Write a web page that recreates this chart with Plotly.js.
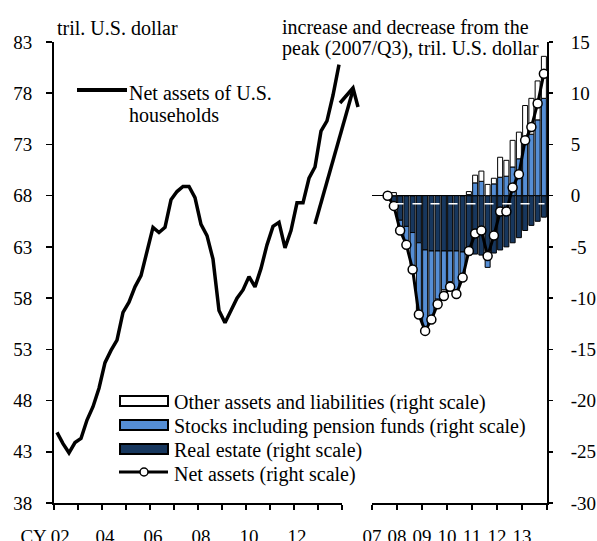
<!DOCTYPE html>
<html><head><meta charset="utf-8">
<script src="https://cdn.plot.ly/plotly-3.0.1.min.js"></script>
<style>html,body{margin:0;padding:0;background:#fff;}#chart{width:597px;height:541px;}</style>
</head><body><div id="chart"></div>
<script>
// ---- data ----
const leftQuarters = ["2002Q1","2002Q2","2002Q3","2002Q4","2003Q1","2003Q2","2003Q3","2003Q4",
 "2004Q1","2004Q2","2004Q3","2004Q4","2005Q1","2005Q2","2005Q3","2005Q4",
 "2006Q1","2006Q2","2006Q3","2006Q4","2007Q1","2007Q2","2007Q3","2007Q4",
 "2008Q1","2008Q2","2008Q3","2008Q4","2009Q1","2009Q2","2009Q3","2009Q4",
 "2010Q1","2010Q2","2010Q3","2010Q4","2011Q1","2011Q2","2011Q3","2011Q4",
 "2012Q1","2012Q2","2012Q3","2012Q4","2013Q1","2013Q2","2013Q3","2013Q4"];
const netAssetsLevel = [44.9,43.8,42.9,43.9, 44.3,46.1,47.4,49.2,
 51.7,52.9,53.9,56.6, 57.6,59.1,60.2,62.7,
 64.9,64.4,64.9,67.6, 68.4,68.9,68.9,67.8,
 65.2,64.1,61.8,56.8, 55.6,56.8,58.0,58.8,
 60.1,59.1,60.9,63.2, 65.0,65.4,62.9,64.6,
 67.3,67.3,69.7,70.8, 74.3,75.3,77.8,80.8];

const rightQuarters = ["2007Q3","2007Q4",
 "2008Q1","2008Q2","2008Q3","2008Q4","2009Q1","2009Q2","2009Q3","2009Q4",
 "2010Q1","2010Q2","2010Q3","2010Q4","2011Q1","2011Q2","2011Q3","2011Q4",
 "2012Q1","2012Q2","2012Q3","2012Q4","2013Q1","2013Q2","2013Q3","2013Q4"];
const realEstate = [-0.1,-1.3, -2.4,-3.0,-3.6,-4.6,-5.3,-5.4,-5.4,-5.4,
 -5.4,-5.4,-5.5,-5.8,-5.7,-5.8,-5.8,-5.6, -5.3,-5.0,-4.6,-4.1,-3.4,-2.9,-2.5,-2.1];
const stocks = [0.0,0.0, -1.0,-1.8,-3.6,-6.7,-7.7,-6.5,-4.7,-3.8,
 -3.0,-4.0,-2.5,0.1,1.25,1.4,-1.2,1.15, 1.8,1.9,2.8,3.6,5.7,6.0,7.4,9.5];
const otherAssets = [0.1,0.3, 0.0,0.0,0.0,-0.3,-0.2,-0.2,-0.5,-0.6,
 -0.5,-0.2,0.0,0.3,0.75,1.0,1.1,0.55, 1.95,1.55,2.6,2.6,3.1,3.5,3.8,4.1];
const netAssetsChange = [0.0,-1.0, -3.4,-4.8,-7.2,-11.6,-13.2,-12.1,-10.6,-9.8,
 -8.9,-9.6,-8.0,-5.4,-3.7,-3.4,-5.9,-3.9, -1.55,-1.55,0.8,2.1,5.4,6.7,9.0,11.9];

const leftTickYears = [2002,2003,2004,2005,2006,2007,2008,2009,2010,2011,2012,2013,2014];
const leftTickText = ["CY 02\u00a0\u00a0\u00a0\u00a0\u00a0","","04","","06","","08","","10","","12","",""];
const rightTickYears = [2007,2008,2009,2010,2011,2012,2013,2014];
const rightTickText = ["07","08","09","10","11","12","13",""];
const rightYTickVals = [-30,-25,-20,-15,-10,-5,0,5,10,15];
const rightYTickText = ["-30","-25","-20","-15","-10","-5","0","5","10","15"];

const legendLabels = ["Other assets and liabilities (right scale)",
 "Stocks including pension funds (right scale)",
 "Real estate (right scale)",
 "Net assets (right scale)"];

// ---- helpers ----
const W = 597, H = 541;
const FONT = '"Liberation Serif","Times New Roman",serif';
const qpos = q => { const y = +q.slice(0,4), n = +q.slice(5); return y + (n - 0.5) / 4; };
const px = x => x / W, py = y => 1 - y / H;
const C_RE = '#17375E', C_ST = '#558ED5';

const traces = [
 {x: leftQuarters.map(qpos), y: netAssetsLevel, xaxis:'x', yaxis:'y', type:'scatter', mode:'lines',
  line:{color:'#000', width:3.5}, hoverinfo:'skip'},
 {x: rightQuarters.map(qpos), y: realEstate, xaxis:'x2', yaxis:'y2', type:'bar', width:0.2,
  marker:{color:C_RE, line:{color:'#000', width:1}}},
 {x: rightQuarters.map(qpos), y: stocks, xaxis:'x2', yaxis:'y2', type:'bar', width:0.2,
  marker:{color:C_ST, line:{color:'#000', width:1}}},
 {x: rightQuarters.map(qpos), y: otherAssets, xaxis:'x2', yaxis:'y2', type:'bar', width:0.2,
  marker:{color:'#fff', line:{color:'#000', width:1}}},
 {x: rightQuarters.map(qpos), y: netAssetsChange, xaxis:'x2', yaxis:'y2', type:'scatter', mode:'lines+markers',
  line:{color:'#000', width:3}, marker:{size:9, color:'#fff', line:{color:'#000', width:1.5}}, cliponaxis:false}
];

const axFont = {family: FONT, size: 19, color:'#000'};
const yDom = [py(503), py(42)];
const layout = {
 width: W, height: H, margin:{l:0,r:0,t:0,b:0}, paper_bgcolor:'#fff', plot_bgcolor:'rgba(0,0,0,0)',
 showlegend:false, barmode:'relative', bargap:0, font: axFont,
 xaxis:{domain:[px(54), px(342)], range:[2002,2014], anchor:'y', showgrid:false, zeroline:false,
  showline:true, linecolor:'#000', linewidth:2, ticks:'outside', ticklen:5, tickwidth:1.5, tickcolor:'#000',
  tickmode:'array', tickvals:leftTickYears, ticktext:leftTickText, tickfont:axFont, tickangle:0,
  ticklabelstandoff:10, ticklabelshift:3},
 yaxis:{domain:yDom, range:[38,83], anchor:'x', showgrid:false, zeroline:false,
  showline:true, linecolor:'#000', linewidth:2, ticks:'outside', ticklen:6, tickwidth:1.5, tickcolor:'#000',
  tickmode:'linear', tick0:38, dtick:5, tickfont:axFont, ticklabelstandoff:10},
 xaxis2:{domain:[px(372), px(547)], range:[2007,2014], anchor:'y2', showgrid:false, zeroline:false,
  showline:true, linecolor:'#000', linewidth:2, ticks:'outside', ticklen:5, tickwidth:1.5, tickcolor:'#000',
  tickmode:'array', tickvals:rightTickYears, ticktext:rightTickText, tickfont:axFont, tickangle:0,
  ticklabelstandoff:10},
 yaxis2:{domain:yDom, range:[-30,15], anchor:'x2', side:'right', showgrid:false,
  zeroline:true, zerolinecolor:'#000', zerolinewidth:1.5,
  showline:true, linecolor:'#000', linewidth:2, ticks:'outside', ticklen:4, tickwidth:1.5, tickcolor:'#000',
  tickmode:'array', tickvals:rightYTickVals, ticktext:rightYTickText, tickfont:axFont, ticklabelstandoff:14},
 shapes:[], annotations:[]
};

const txt = (s, x, y, anchor) => ({text:s, xref:'paper', yref:'paper', x:px(x), y:py(y),
  xanchor:anchor||'left', yanchor:'middle', showarrow:false, font:{family:FONT, size:20, color:'#000'}});

layout.annotations.push(txt('tril. U.S. dollar', 55, 28));
layout.annotations.push(txt('increase and decrease from the', 280, 27));
layout.annotations.push(txt('peak (2007/Q3), tril. U.S. dollar', 280, 48));
layout.annotations.push(txt('Net assets of U.S.', 127, 93));
layout.annotations.push(txt('households', 127, 115));

// left legend line
layout.shapes.push({type:'line', xref:'paper', yref:'paper', x0:px(77), x1:px(127), y0:py(90), y1:py(90),
  line:{color:'#000', width:4}});
// arrow
layout.shapes.push({type:'line', xref:'paper', yref:'paper', x0:px(315), y0:py(224), x1:px(353), y1:py(90),
  line:{color:'#000', width:3.5}});
layout.shapes.push({type:'path', xref:'paper', yref:'paper',
  path:`M ${px(340)} ${py(103)} L ${px(353)} ${py(88)} L ${px(358)} ${py(107)}`,
  line:{color:'#000', width:3.5}});
// white dashed line
layout.shapes.push({type:'line', xref:'x2', yref:'y2', x0:2007.9, x1:2013.9, y0:-0.8, y1:-0.8,
  line:{color:'#fff', width:1.5, dash:'dash'}, layer:'above'});

// bottom legend
const rowsY = [401, 425, 449, 473];
const fills = ['#fff', C_ST, C_RE];
for (let i = 0; i < 3; i++) {
  layout.shapes.push({type:'rect', xref:'paper', yref:'paper', x0:px(120), x1:px(168),
    y0:py(rowsY[i]-5), y1:py(rowsY[i]+5), fillcolor:fills[i], line:{color:'#000', width:2}});
}
layout.shapes.push({type:'line', xref:'paper', yref:'paper', x0:px(119), x1:px(168), y0:py(rowsY[3]-1), y1:py(rowsY[3]-1),
  line:{color:'#000', width:3}});
layout.shapes.push({type:'circle', xref:'paper', yref:'paper', x0:px(140), x1:px(148), y0:py(rowsY[3]-5), y1:py(rowsY[3]+3),
  fillcolor:'#fff', line:{color:'#000', width:1.5}});
legendLabels.forEach((s, i) => layout.annotations.push(txt(s, 172, rowsY[i] + 1)));

Plotly.newPlot('chart', traces, layout, {staticPlot:true, displayModeBar:false});
</script></body></html>
